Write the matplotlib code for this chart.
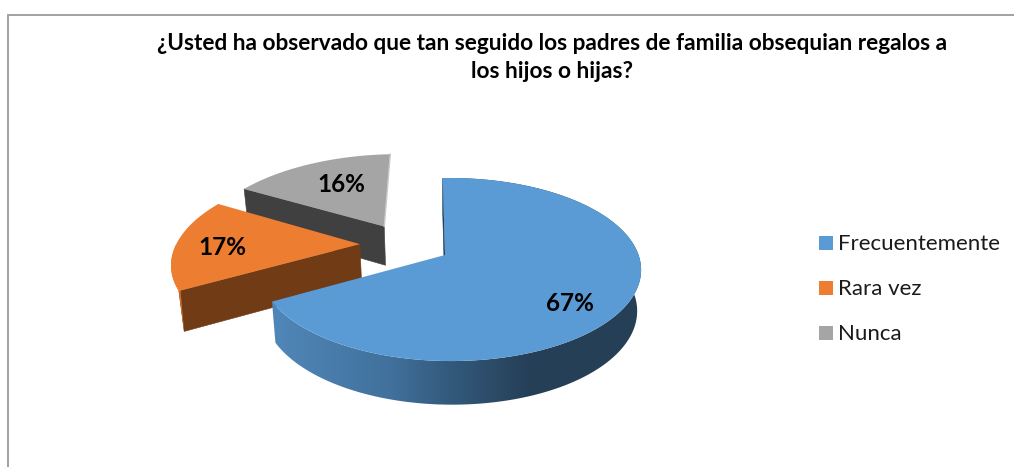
import numpy as np
import matplotlib
matplotlib.use('Agg')
import matplotlib.pyplot as plt
from matplotlib.patches import Polygon, Rectangle
from matplotlib.colors import to_rgb

# data (labels show these rounded, the slices look slightly off the round numbers)
categories = ['Frecuentemente', 'Rara vez', 'Nunca']
values = [67, 16.6, 16.4]
title = '¿Usted ha observado que tan seguido los padres de familia obsequian regalos a\nlos hijos o hijas?'

top_colors = ['#5B9BD5', '#ED7D31', '#A5A5A5']
edge_colors = ['#1F3B55', '#703B15', '#404040']

# pie camera, in pixels
CX, CY = 445, 255
AX_X, AX_Y = 188.2, 89.2
K, M = 0.1585, 0.0276
DEPTH = 40
EXPLODE = 0.25
START = -0.8
LOWER_SHRINK = 0.98
radii = [1.0, 1.05, 1.05]


def project(x, y, down=False):
    w = 1 + K * y - M * x
    sx = CX + AX_X * x / w
    sy = CY - AX_Y * y / w
    if down:
        sx = CX + (sx - CX) * LOWER_SHRINK
        sy = sy + DEPTH / np.sqrt(w)
    return sx, sy


fig = plt.figure(figsize=(10.14, 4.67), dpi=100)
ax = fig.add_axes([0, 0, 1, 1])
ax.set_xlim(0, 1014)
ax.set_ylim(467, 0)
ax.axis('off')

# outer frame of the chart
ax.plot([8, 8, 1014], [467, 15, 15], color='#9A9A9A', lw=1.3, solid_joinstyle='miter')

# slice angles, clockwise from the top
fracs = np.array(values) / sum(values)
starts = START + 360 * np.concatenate([[0], np.cumsum(fracs)[:-1]])
ends = starts + 360 * fracs
mids = np.radians((starts + ends) / 2)

# the big slice sits at the origin of the camera, the others are moved from it
base_x = -EXPLODE * np.sin(mids[0])
base_y = -EXPLODE * np.cos(mids[0])

for i in [2, 1, 0]:
    z = 2 + 3 * (2 - i)
    ox = base_x + EXPLODE * np.sin(mids[i])
    oy = base_y + EXPLODE * np.cos(mids[i])
    ang = np.radians(np.linspace(starts[i], ends[i], 240))
    px = ox + radii[i] * np.sin(ang)
    py = oy + radii[i] * np.cos(ang)

    # radial wall at the start of the slice
    wall = [project(px[0], py[0]), project(ox, oy),
            project(ox, oy, True), project(px[0], py[0], True)]
    ax.add_patch(Polygon(wall, closed=True, fc=edge_colors[i], ec=edge_colors[i], lw=0.4, zorder=z))

    # outer wall
    top_x, top_y = project(px, py)
    low_x, low_y = project(px, py, True)
    outline = np.column_stack([np.append(top_x, low_x[::-1]), np.append(top_y, low_y[::-1])])
    if i == 0:
        # shading runs left to right along the front of the big slice
        stops_x = [272, 390, 450, 530, 650]
        stops = np.array([to_rgb(c) for c in ['#5087B9', '#41719C', '#335A7C', '#253F57', '#253F57']])
        xs = np.linspace(260, 650, 400)
        shade = np.column_stack([np.interp(xs, stops_x, stops[:, k]) for k in range(3)])[None, :, :]
        im = ax.imshow(shade, extent=(260, 650, 420, 170), aspect='auto', zorder=z, interpolation='bilinear')
        clip = Polygon(outline, closed=True, transform=ax.transData, fc='none', ec='none')
        ax.add_patch(clip)
        im.set_clip_path(clip)
        ax.set_xlim(0, 1014)
        ax.set_ylim(467, 0)
    elif i == 1:
        # the orange outer wall tapers from the left edge down to the corner
        n = 120
        taper = np.column_stack([np.append(top_x[:n], low_x[0]), np.append(top_y[:n], low_y[0])])
        ax.add_patch(Polygon(taper, closed=True, fc='#DB722C', ec='none', zorder=z))

    # top surface
    sx, sy = project(np.append(px, ox), np.append(py, oy))
    ax.add_patch(Polygon(np.column_stack([sx, sy]), closed=True, fc=top_colors[i],
                         ec='none', zorder=z + 1))

    # light line on the closing edge of the grey slice
    if i == 2:
        ax.plot([top_x[-1], sx[-1]], [top_y[-1], sy[-1]], color='#C8C8C8', lw=1, zorder=z + 1)

# data labels
label_x = [570, 222, 341]
label_y = [303.5, 247.5, 184.5]
for i in range(3):
    ax.text(label_x[i], label_y[i], f'{values[i]:.0f}%', ha='center', va='center',
            fontsize=17.5, fontweight='bold', family='Lato', color='black', zorder=20)

# title
ax.text(552, 57.5, title, ha='center', va='center', fontsize=16.3, fontweight='bold',
        family='Lato', color='black', linespacing=1.42, zorder=20)

# legend
legend_y = [243, 288, 333]
for i in range(3):
    ax.add_patch(Rectangle((819, legend_y[i] - 7), 14, 14, fc=top_colors[i], ec='none'))
    ax.text(838.5, legend_y[i] + 1, categories[i], ha='left', va='center', fontsize=16,
            family='Lato', color='#1A1A1A')

fig.savefig('out.png', dpi=100)
